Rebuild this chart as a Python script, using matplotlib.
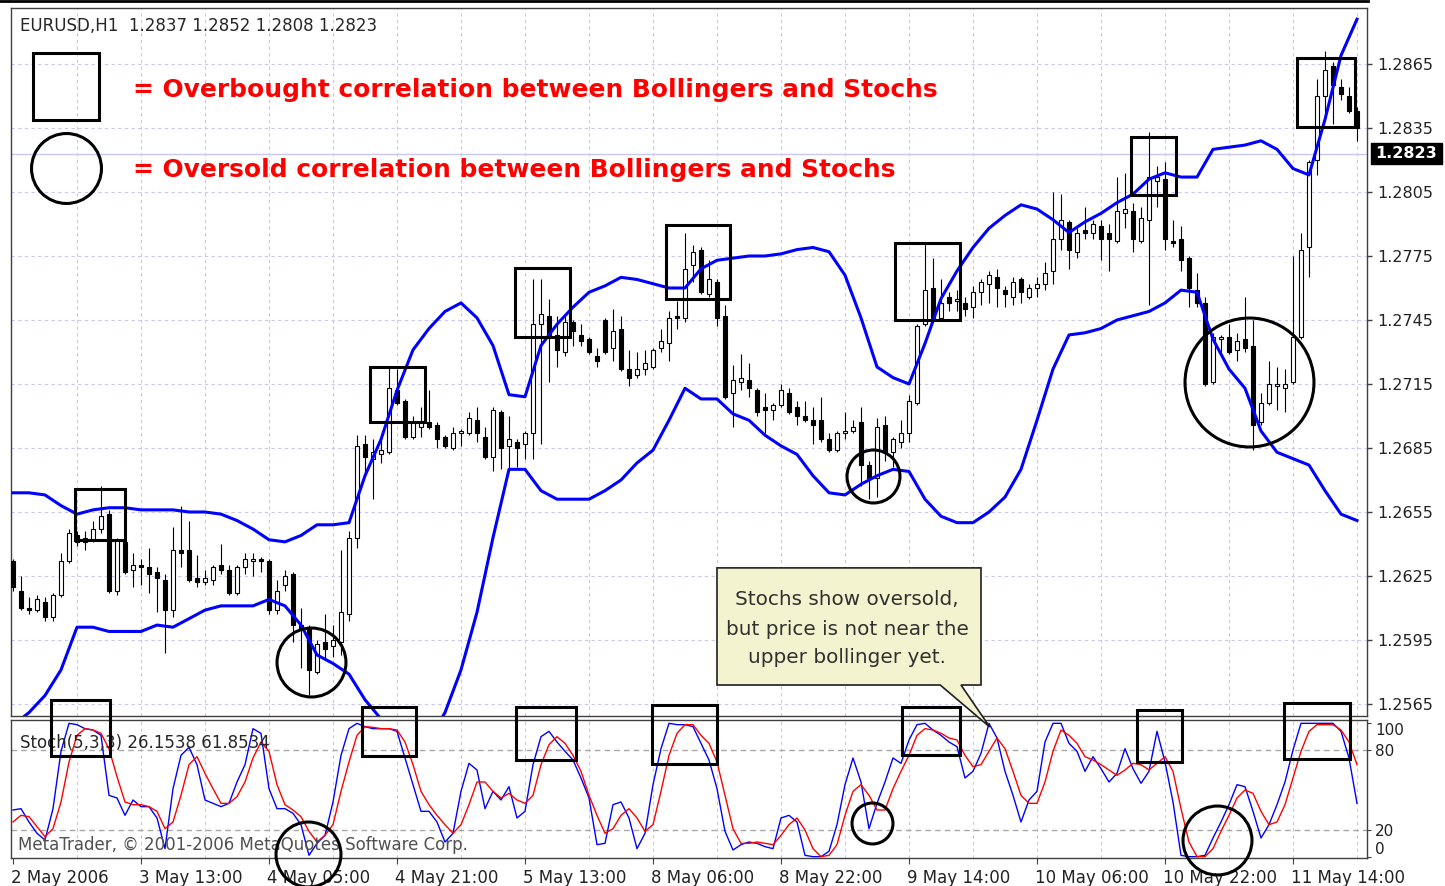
import numpy as np
import matplotlib
matplotlib.use("Agg")
import matplotlib.pyplot as plt
from matplotlib.patches import Rectangle, Polygon
from matplotlib.lines import Line2D
import matplotlib.transforms as mtransforms

# ---------------- data ----------------
title_text = "EURUSD,H1  1.2837 1.2852 1.2808 1.2823"
stoch_text = "Stoch(5,3,3) 26.1538 61.8534"
bid_price = 1.2823

opens = [
    1.2632, 1.2618, 1.2610, 1.2609, 1.2613, 1.2606, 1.2616, 1.2632, 1.2644, 1.2643,
    1.2642, 1.2647, 1.2654, 1.2618, 1.2641, 1.2628, 1.2630, 1.2629, 1.2627, 1.2623,
    1.2609, 1.2637, 1.2637, 1.2624, 1.2622, 1.2623, 1.2630, 1.2628, 1.2617, 1.2629,
    1.2632, 1.2633, 1.2632, 1.2609, 1.2621, 1.2626, 1.2602, 1.2600, 1.2580, 1.2594,
    1.2592, 1.2594, 1.2607, 1.2643, 1.2687, 1.2680, 1.2682, 1.2683, 1.2712, 1.2707,
    1.2690, 1.2695, 1.2697, 1.2696, 1.2690, 1.2685, 1.2692, 1.2692, 1.2698, 1.2690,
    1.2681, 1.2702, 1.2686, 1.2688, 1.2687, 1.2692, 1.2743, 1.2747, 1.2738, 1.2730,
    1.2744, 1.2738, 1.2736, 1.2728, 1.2745, 1.2732, 1.2741, 1.2722, 1.2719, 1.2722,
    1.2723, 1.2732, 1.2734, 1.2747, 1.2746, 1.2771, 1.2778, 1.2757, 1.2763, 1.2747,
    1.2711, 1.2716, 1.2717, 1.2712, 1.2704, 1.2703, 1.2705, 1.2711, 1.2704, 1.2700,
    1.2698, 1.2698, 1.2689, 1.2684, 1.2692, 1.2693, 1.2697, 1.2677, 1.2671, 1.2696,
    1.2683, 1.2688, 1.2692, 1.2706, 1.2743, 1.2760, 1.2746, 1.2756, 1.2754, 1.2753,
    1.2751, 1.2758, 1.2762, 1.2765, 1.2759, 1.2756, 1.2764, 1.2756, 1.2760, 1.2762,
    1.2768, 1.2783, 1.2791, 1.2777, 1.2787, 1.2786, 1.2789, 1.2786, 1.2782, 1.2795,
    1.2796, 1.2782, 1.2792, 1.2810, 1.2811, 1.2782, 1.2783, 1.2774, 1.2759, 1.2753,
    1.2716, 1.2736, 1.2737, 1.2731, 1.2736, 1.2733, 1.2697, 1.2706, 1.2714, 1.2713,
    1.2716, 1.2737, 1.2779, 1.2820, 1.2850, 1.2864, 1.2854, 1.2850, 1.2843]

highs = [
    1.2633, 1.2625, 1.2615, 1.2616, 1.2615, 1.2617, 1.2636, 1.2647, 1.2646, 1.2646,
    1.2651, 1.2667, 1.2656, 1.2643, 1.2642, 1.2636, 1.2633, 1.2638, 1.2629, 1.2626,
    1.2648, 1.2658, 1.2651, 1.2635, 1.2628, 1.2630, 1.2640, 1.2630, 1.2630, 1.2636,
    1.2636, 1.2634, 1.2633, 1.2623, 1.2628, 1.2627, 1.2610, 1.2602, 1.2595, 1.2607,
    1.2602, 1.2637, 1.2646, 1.2691, 1.2691, 1.2689, 1.2689, 1.2723, 1.2722, 1.2708,
    1.2700, 1.2704, 1.2712, 1.2697, 1.2691, 1.2695, 1.2694, 1.2702, 1.2704, 1.2695,
    1.2704, 1.2703, 1.2700, 1.2689, 1.2693, 1.2764, 1.2764, 1.2755, 1.2747, 1.2748,
    1.2745, 1.2743, 1.2737, 1.2732, 1.2746, 1.2750, 1.2747, 1.2731, 1.2730, 1.2731,
    1.2732, 1.2741, 1.2749, 1.2754, 1.2786, 1.2780, 1.2779, 1.2773, 1.2764, 1.2752,
    1.2724, 1.2729, 1.2725, 1.2713, 1.2711, 1.2706, 1.2715, 1.2713, 1.2707, 1.2707,
    1.2704, 1.2709, 1.2692, 1.2693, 1.2702, 1.2698, 1.2704, 1.2679, 1.2699, 1.2700,
    1.2690, 1.2698, 1.2710, 1.2743, 1.2781, 1.2774, 1.2764, 1.2758, 1.2759, 1.2756,
    1.2761, 1.2764, 1.2768, 1.2769, 1.2761, 1.2765, 1.2765, 1.2762, 1.2765, 1.2772,
    1.2805, 1.2804, 1.2792, 1.2788, 1.2798, 1.2792, 1.2792, 1.2790, 1.2812, 1.2814,
    1.2800, 1.2798, 1.2833, 1.2817, 1.2819, 1.2792, 1.2789, 1.2775, 1.2767, 1.2756,
    1.2739, 1.2738, 1.2743, 1.2739, 1.2756, 1.2745, 1.2711, 1.2726, 1.2723, 1.2722,
    1.2775, 1.2786, 1.2820, 1.2858, 1.2871, 1.2866, 1.2858, 1.2854, 1.2845]

lows = [
    1.2618, 1.2609, 1.2607, 1.2608, 1.2604, 1.2604, 1.2615, 1.2631, 1.2639, 1.2637,
    1.2641, 1.2645, 1.2617, 1.2616, 1.2626, 1.2620, 1.2621, 1.2617, 1.2608, 1.2589,
    1.2606, 1.2629, 1.2622, 1.2620, 1.2621, 1.2621, 1.2626, 1.2616, 1.2616, 1.2626,
    1.2625, 1.2627, 1.2607, 1.2607, 1.2618, 1.2594, 1.2582, 1.2569, 1.2579, 1.2586,
    1.2587, 1.2588, 1.2604, 1.2638, 1.2672, 1.2661, 1.2678, 1.2682, 1.2705, 1.2689,
    1.2689, 1.2690, 1.2694, 1.2685, 1.2685, 1.2684, 1.2686, 1.2691, 1.2688, 1.2680,
    1.2674, 1.2675, 1.2675, 1.2676, 1.2680, 1.2680, 1.2687, 1.2716, 1.2723, 1.2728,
    1.2733, 1.2733, 1.2729, 1.2723, 1.2729, 1.2726, 1.2721, 1.2714, 1.2718, 1.2719,
    1.2722, 1.2730, 1.2726, 1.2741, 1.2744, 1.2763, 1.2757, 1.2756, 1.2742, 1.2708,
    1.2695, 1.2712, 1.2709, 1.2700, 1.2692, 1.2698, 1.2704, 1.2701, 1.2696, 1.2697,
    1.2687, 1.2688, 1.2683, 1.2683, 1.2689, 1.2692, 1.2667, 1.2661, 1.2662, 1.2679,
    1.2676, 1.2685, 1.2688, 1.2705, 1.2742, 1.2745, 1.2745, 1.2749, 1.2749, 1.2747,
    1.2746, 1.2752, 1.2753, 1.2751, 1.2751, 1.2752, 1.2753, 1.2755, 1.2756, 1.2759,
    1.2762, 1.2778, 1.2769, 1.2774, 1.2783, 1.2783, 1.2773, 1.2768, 1.2781, 1.2788,
    1.2777, 1.2781, 1.2752, 1.2798, 1.2778, 1.2779, 1.2768, 1.2751, 1.2751, 1.2714,
    1.2715, 1.2730, 1.2729, 1.2726, 1.2730, 1.2684, 1.2696, 1.2705, 1.2703, 1.2702,
    1.2715, 1.2736, 1.2765, 1.2813, 1.2839, 1.2837, 1.2848, 1.2842, 1.2829]

closes = [
    1.2620, 1.2610, 1.2609, 1.2614, 1.2606, 1.2616, 1.2632, 1.2645, 1.2641, 1.2641,
    1.2647, 1.2653, 1.2618, 1.2642, 1.2627, 1.2630, 1.2629, 1.2626, 1.2624, 1.2609,
    1.2637, 1.2636, 1.2623, 1.2622, 1.2624, 1.2629, 1.2628, 1.2617, 1.2629, 1.2633,
    1.2633, 1.2632, 1.2609, 1.2618, 1.2625, 1.2602, 1.2600, 1.2581, 1.2593, 1.2591,
    1.2595, 1.2608, 1.2643, 1.2686, 1.2681, 1.2683, 1.2684, 1.2713, 1.2706, 1.2690,
    1.2697, 1.2697, 1.2695, 1.2689, 1.2686, 1.2692, 1.2693, 1.2699, 1.2692, 1.2681,
    1.2703, 1.2685, 1.2689, 1.2685, 1.2692, 1.2743, 1.2748, 1.2738, 1.2731, 1.2744,
    1.2740, 1.2735, 1.2730, 1.2726, 1.2730, 1.2740, 1.2722, 1.2718, 1.2722, 1.2725,
    1.2731, 1.2735, 1.2746, 1.2746, 1.2769, 1.2777, 1.2758, 1.2764, 1.2746, 1.2709,
    1.2717, 1.2718, 1.2713, 1.2702, 1.2703, 1.2705, 1.2712, 1.2702, 1.2700, 1.2698,
    1.2696, 1.2689, 1.2684, 1.2692, 1.2693, 1.2695, 1.2677, 1.2671, 1.2695, 1.2683,
    1.2689, 1.2692, 1.2707, 1.2742, 1.2759, 1.2746, 1.2753, 1.2753, 1.2755, 1.2750,
    1.2758, 1.2763, 1.2766, 1.2760, 1.2757, 1.2763, 1.2758, 1.2760, 1.2762, 1.2767,
    1.2783, 1.2792, 1.2778, 1.2786, 1.2786, 1.2790, 1.2783, 1.2783, 1.2796, 1.2797,
    1.2783, 1.2793, 1.2812, 1.2812, 1.2783, 1.2781, 1.2773, 1.2760, 1.2753, 1.2715,
    1.2737, 1.2737, 1.2730, 1.2735, 1.2732, 1.2696, 1.2706, 1.2715, 1.2715, 1.2715,
    1.2737, 1.2778, 1.2819, 1.2850, 1.2862, 1.2855, 1.2851, 1.2843, 1.2835]

# Bollinger bands, read at every second bar (bars 0, 2, 4, ... 168)
band_step = 2
upper_band = [
    1.2664, 1.2664, 1.2663, 1.2658, 1.2654, 1.2656, 1.2657, 1.2657, 1.2656, 1.2656,
    1.2656, 1.2655, 1.2655, 1.2654, 1.2651, 1.2647, 1.2642, 1.2641, 1.2644, 1.2649,
    1.2649, 1.2650, 1.2672, 1.2689, 1.2712, 1.2731, 1.2741, 1.2749, 1.2753, 1.2746,
    1.2733, 1.2710, 1.2709, 1.2733, 1.2743, 1.2751, 1.2758, 1.2761, 1.2765, 1.2764,
    1.2762, 1.2760, 1.2760, 1.2769, 1.2773, 1.2774, 1.2775, 1.2775, 1.2776, 1.2778,
    1.2779, 1.2777, 1.2766, 1.2746, 1.2723, 1.2718, 1.2715, 1.2734, 1.2755, 1.2768,
    1.2779, 1.2788, 1.2794, 1.2799, 1.2797, 1.2792, 1.2786, 1.2791, 1.2795, 1.2800,
    1.2804, 1.2811, 1.2814, 1.2812, 1.2812, 1.2825, 1.2826, 1.2827, 1.2829, 1.2825,
    1.2816, 1.2813, 1.2839, 1.2869, 1.2886]
lower_band = [
    1.2555, 1.2561, 1.2569, 1.2581, 1.2601, 1.2601, 1.2599, 1.2599, 1.2599, 1.2602,
    1.2601, 1.2605, 1.2609, 1.2611, 1.2611, 1.2611, 1.2614, 1.2611, 1.2602, 1.2588,
    1.2584, 1.2579, 1.2567, 1.2558, 1.2548, 1.2539, 1.2548, 1.2561, 1.2581, 1.2608,
    1.2643, 1.2675, 1.2675, 1.2665, 1.2661, 1.2661, 1.2661, 1.2665, 1.2670, 1.2678,
    1.2684, 1.2698, 1.2713, 1.2708, 1.2708, 1.2701, 1.2698, 1.2691, 1.2686, 1.2682,
    1.2672, 1.2664, 1.2663, 1.2668, 1.2672, 1.2675, 1.2674, 1.2661, 1.2653, 1.2650,
    1.2650, 1.2655, 1.2662, 1.2675, 1.2698, 1.2722, 1.2738, 1.2739, 1.2741, 1.2745,
    1.2747, 1.2749, 1.2753, 1.2759, 1.2758, 1.2736, 1.2722, 1.2713, 1.2693, 1.2683,
    1.2680, 1.2677, 1.2665, 1.2654, 1.2651]

stoch_main = [
    35, 36, 26, 17.5, 12.5, 36, 79, 100, 99, 96,
    95, 91, 46, 44, 31, 42.5, 37.5, 37.5, 29, 6,
    51, 76, 82, 69, 42.5, 40, 37.5, 40, 56, 69,
    96, 92.5, 51, 36, 36, 32.5, 24, 1, 10, 16,
    41, 76, 96, 100, 97.5, 96, 96, 96, 94, 74,
    54, 34, 34, 26, 11, 17.5, 49, 70, 65, 36,
    49, 42.5, 52.5, 29, 34, 69, 90, 94, 86, 79,
    72.5, 59, 44, 9, 10, 39, 41, 29, 6, 17.5,
    54, 81, 100, 99, 99, 97.5, 85, 72.5, 51, 19,
    5, 9, 11, 10, 7.5, 6, 29, 31, 26, 1,
    0, 0, 4, 24, 54, 74, 56, 21, 40, 56,
    74, 70, 87.5, 99, 100, 95, 91, 86, 82.5, 59,
    64, 77.5, 100, 89, 64, 46, 26, 42.5, 49, 86,
    100, 100, 85, 79, 64, 75, 66, 56, 62.5, 81,
    66, 55, 64, 94, 71, 41, 1, 0, 0, 1,
    14, 26, 39, 54, 52.5, 34, 14, 24, 39, 56,
    80, 100, 100, 100, 100, 100, 94, 74, 40]
stoch_signal = [
    26, 31, 30, 22.5, 15, 21, 41, 71, 91, 96,
    95, 92.5, 81, 60, 41, 39, 39, 37.5, 34, 21,
    26, 46, 69, 75, 62.5, 51, 40, 40, 45, 56,
    74, 86, 79, 54, 39, 35, 30, 19, 11, 16,
    24, 49, 71, 91, 97.5, 97, 96, 96, 95, 86,
    69, 49, 39, 31, 24, 17.5, 24, 39, 56, 56,
    49, 44, 47.5, 42.5, 40, 46, 69, 84, 90, 85,
    76, 64, 46, 31, 17.5, 21, 31, 36, 29, 19,
    24, 49, 76, 92.5, 99, 99, 91, 85, 71, 46,
    21, 10, 10, 11, 10, 9, 16, 24, 29, 20,
    6, 0, 1, 9, 31, 49, 54, 46, 35, 35,
    51, 64, 76, 91, 96, 95, 92.5, 89, 87.5, 76,
    67.5, 69, 79, 89, 81, 64, 46, 40, 40, 56,
    79, 95, 91, 85, 75, 72.5, 69, 65, 61, 65,
    70, 69, 65, 70, 75, 64, 36, 11, 0, 0,
    6, 19, 31, 44, 50, 47.5, 34, 24, 26, 39,
    59, 79, 94, 99, 99, 99, 95, 86, 69]

time_labels = ["2 May 2006", "3 May 13:00", "4 May 05:00", "4 May 21:00",
               "5 May 13:00", "8 May 06:00", "8 May 22:00", "9 May 14:00",
               "10 May 06:00", "10 May 22:00", "11 May 14:00"]
time_label_step = 16
price_ticks = [1.2565, 1.2595, 1.2625, 1.2655, 1.2685, 1.2715, 1.2745,
               1.2775, 1.2805, 1.2835, 1.2865]
stoch_levels = [20, 80]
stoch_ticks = [0, 20, 80, 100]

legend_ob = "= Overbought correlation between Bollingers and Stochs"
legend_os = "= Oversold correlation between Bollingers and Stochs"
callout_lines = ["Stochs show oversold,", "but price is not near the", "upper bollinger yet."]
watermark = "MetaTrader, \u00a9 2001-2006 MetaQuotes Software Corp."

# ---------------- annotation placement (data units) ----------------
main_boxes = [(7.75, 14.0, 1.26419, 1.26658), (44.6, 51.5, 1.26972, 1.27230),
              (62.75, 69.6, 1.27370, 1.27694), (81.6, 89.6, 1.27548, 1.27895),
              (110.25, 118.4, 1.27450, 1.27811), (139.75, 145.4, 1.28036, 1.28308),
              (160.5, 167.75, 1.28355, 1.28678)]
stoch_boxes = [(4.75, 12.1, 75.5, 117.5), (43.6, 50.4, 75.5, 112.3),
               (62.9, 70.4, 72.5, 112.3), (79.9, 88.0, 69.5, 113.8),
               (111.1, 118.4, 76.3, 112.3), (140.5, 146.1, 71.0, 110.0),
               (158.9, 167.1, 73.3, 115.3)]
main_circles = [(37.25, 1.25847, 72), (107.5, 1.26719, 56), (154.5, 1.27159, 132)]
stoch_circles = [(36.9, 2.0, 68), (107.4, 25.3, 44), (150.5, 12.5, 72)]
callout_shape = [(88.0, 1.26288), (121.0, 1.26288), (121.0, 1.25739), (118.5, 1.25739),
                 (122.1, 1.25542), (115.9, 1.25739), (88.0, 1.25739)]
callout_text_x = 104.25
callout_text_y = [1.26114, 1.25973, 1.25842]

# ---------------- figure ----------------
W, H = 1445, 886
fig = plt.figure(figsize=(W / 100, H / 100), dpi=100)
fig.patch.set_facecolor("white")


def fx(px):
    return px / W


def fy(py):
    return 1 - py / H


ax = fig.add_axes([fx(11), fy(716), 1356 / W, 708 / H])
axs = fig.add_axes([fx(11), fy(858), 1356 / W, 138 / H])

n = len(opens)
x = np.arange(n)
O = np.array(opens); Hh = np.array(highs); L = np.array(lows); C = np.array(closes)

GRID = "#C8C8F0"
grid_ls = (0, (3, 3))

for a in (ax, axs):
    a.set_xlim(-0.25, 169.25)
    for gx in range(8, n, 8):
        a.axvline(gx, color=GRID, lw=0.8, ls=grid_ls, zorder=0)
    for s in a.spines.values():
        s.set_color("#404040")
        s.set_linewidth(1.0)

ax.set_ylim(1.2559375, 1.289125)
for p in price_ticks:
    ax.axhline(p, color=GRID, lw=0.8, ls=grid_ls, zorder=0)
ax.axhline(bid_price, color=GRID, lw=1.0, zorder=0.5)

# candles
ax.vlines(x, L, Hh, color="black", lw=0.8, zorder=2)
up = C >= O
body_h = np.maximum(np.abs(C - O), 0.00003)
ax.bar(x, body_h, bottom=np.minimum(O, C), width=0.5,
       color=np.where(up, "white", "black"), edgecolor="black", lw=0.8, zorder=3)

# bands
band_x = np.arange(0, n, band_step)
ax.plot(band_x, upper_band, color="#0000FF", lw=2.2, zorder=4, solid_joinstyle="round")
ax.plot(band_x, lower_band, color="#0000FF", lw=2.2, zorder=4, solid_joinstyle="round")

ax.tick_params(axis="x", length=0, labelbottom=False)
ax.yaxis.tick_right()
ax.set_yticks(price_ticks)
ax.set_yticklabels([f"{p:.4f}" for p in price_ticks])
ax.tick_params(axis="y", direction="out", length=3.5, width=1, pad=4,
               labelsize=11.5, colors="#404040", labelcolor="#222222")

# stochastic
axs.set_ylim(-1, 102.5)
for lv in stoch_levels:
    axs.axhline(lv, color="#A8A8A8", lw=1.0, ls=(0, (4, 3)), zorder=0.5)
axs.plot(x, stoch_main, color="#0000FF", lw=1.0, zorder=3)
axs.plot(x, stoch_signal, color="#FF0000", lw=1.0, zorder=3)
axs.yaxis.tick_right()
axs.set_yticks(stoch_ticks)
axs.set_yticklabels([str(t) for t in stoch_ticks])
axs.tick_params(axis="y", direction="out", length=3, pad=3, labelsize=11,
                colors="#404040", labelcolor="#222222")
for lab, t in zip(axs.get_yticklabels(), stoch_ticks):
    if t == 100:
        lab.set_va("top")
    elif t == 0:
        lab.set_va("bottom")
tick_pos = np.arange(0, len(time_labels) * time_label_step, time_label_step)
axs.set_xticks(tick_pos)
axs.set_xticklabels(time_labels, ha="left")
axs.tick_params(axis="x", direction="out", length=4, pad=4, labelsize=12,
                colors="#404040", labelcolor="#222222")
off = mtransforms.ScaledTranslation(-2 / 100, 0, fig.dpi_scale_trans)
for lab in axs.get_xticklabels():
    lab.set_transform(lab.get_transform() + off)

# ---------------- texts ----------------
fig.text(fx(20), fy(31), title_text, fontsize=12, color="#262626", va="baseline")
fig.text(fx(133), fy(97), legend_ob, fontsize=17.9, fontweight="bold",
         color="#FF0000", va="baseline")
fig.text(fx(133), fy(177), legend_os, fontsize=17.9, fontweight="bold",
         color="#FF0000", va="baseline")
fig.text(fx(20), fy(748), stoch_text, fontsize=12, color="#262626", va="baseline")
fig.text(fx(18), fy(850), watermark, fontsize=12, color="#505050", va="baseline")

# top frame line
fig.add_artist(Line2D([0, fx(1368)], [fy(1), fy(1)], transform=fig.transFigure,
                      color="black", lw=2))

# legend shapes
fig.add_artist(Rectangle((0.0162, 0.8418), 0.0487, 0.0946, transform=ax.transAxes,
                         fill=False, ec="black", lw=2.2, zorder=5))
fig.add_artist(Line2D([0.0406], [0.774], transform=ax.transAxes, marker="o",
                      ms=73 * 0.72 - 2.2, mfc="none", mec="black", mew=2.2, ls="none",
                      zorder=5))

# boxes and circles
for (i0, i1, lo, hi) in main_boxes:
    fig.add_artist(Rectangle((i0, lo), i1 - i0, hi - lo, transform=ax.transData,
                             fill=False, ec="black", lw=2.2, zorder=5))
for (i0, i1, lo, hi) in stoch_boxes:
    fig.add_artist(Rectangle((i0, lo), i1 - i0, hi - lo, transform=axs.transData,
                             fill=False, ec="black", lw=2.2, zorder=5))
for (ci, cp, d) in main_circles:
    fig.add_artist(Line2D([ci], [cp], transform=ax.transData, marker="o",
                          ms=d * 0.72 - 2.2, mfc="none", mec="black", mew=2.2,
                          ls="none", zorder=5))
for (ci, cv, d) in stoch_circles:
    fig.add_artist(Line2D([ci], [cv], transform=axs.transData, marker="o",
                          ms=d * 0.72 - 2.2, mfc="none", mec="black", mew=2.2,
                          ls="none", zorder=5))

# callout
fig.add_artist(Polygon(callout_shape, closed=True, transform=ax.transData,
                       fc="#F3F3D0", ec="#202020", lw=1.2, zorder=6))
for s, yy in zip(callout_lines, callout_text_y):
    fig.text(callout_text_x, yy, s, transform=ax.transData, ha="center",
             va="baseline", fontsize=14.4, color="#303030", zorder=7)

# current price label
blend = mtransforms.blended_transform_factory(fig.transFigure, ax.transData)
lab_h = 21 / H
bid_disp = ax.transData.transform((0, bid_price))[1] / fig.bbox.height
fig.add_artist(Rectangle((fx(1371), bid_disp - lab_h / 2), 71 / W, lab_h,
                         transform=fig.transFigure, fc="black", ec="black", zorder=6))
fig.text(fx(1406), bid_price, f"{bid_price:.4f}", transform=blend, ha="center",
         va="center", fontsize=11.5, fontweight="bold", color="white", zorder=7)

fig.savefig("out.png", dpi=100)
